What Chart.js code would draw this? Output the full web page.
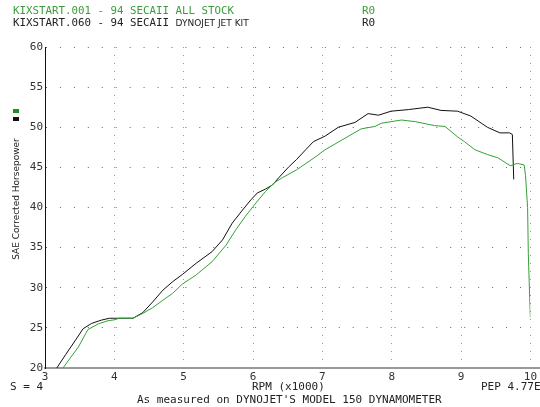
<!DOCTYPE html>
<html>
<head>
<meta charset="utf-8">
<script src="https://cdn.jsdelivr.net/npm/chart.js@4.4.1/dist/chart.umd.min.js"></script>
<style>
  html, body { margin: 0; padding: 0; background: #fff; }
  #wrap { position: relative; width: 540px; height: 407px; overflow: hidden;
          font-family: "DejaVu Sans Mono", monospace; font-size: 11px; color: #222; }
  #wrap canvas { position: absolute; left: 0; top: 0; }
  .txt { position: absolute; white-space: nowrap; line-height: 13px; }
  .green { color: #3c9c3c; }
  .narrow { font-family: "DejaVu Sans", sans-serif; font-size: 9px; }
  .key { position: absolute; left: 13px; width: 6px; height: 4px; }
  #ytitle { position: absolute; left: 16px; top: 199px; white-space: nowrap;
            font-family: "DejaVu Sans", sans-serif; font-size: 9px; line-height: 10px;
            transform: translate(-50%, -50%) rotate(-90deg); color: #222; }
</style>
</head>
<body>
<div id="wrap">
  <canvas id="dynoChart" width="540" height="407"></canvas>
  <div class="txt green" style="left:13px; top:4px; font-size:10.8px;">KIXSTART.001 - 94 SECAII ALL STOCK</div>
  <div class="txt green" style="left:362px; top:4px;">R0</div>
  <div class="txt" style="left:13px; top:16px; font-size:10.8px;">KIXSTART.060 - 94 SECAII <span class="narrow">DYNOJET JET KIT</span></div>
  <div class="txt" style="left:362px; top:16px;">R0</div>
  <div class="key" style="top:109px; background:#1f8f1f;"></div>
  <div class="key" style="top:117px; background:#111;"></div>
  <div id="ytitle">SAE Corrected Horsepower</div>
  <div class="txt" style="left:10px; top:380px;">S = 4</div>
  <div class="txt" style="left:252px; top:380px;">RPM (x1000)</div>
  <div class="txt" style="left:481px; top:380px;">PEP 4.77E</div>
  <div class="txt" style="left:137px; top:393px;">As measured on DYNOJET'S MODEL 150 DYNAMOMETER</div>
</div>
<script>
// 94 SECAII - all stock (run .001)
const rpmStock = [3.26, 3.36, 3.48, 3.62, 3.77, 3.91, 4.00, 4.07, 4.27, 4.41,
                  4.55, 4.70, 4.84, 4.98, 5.18, 5.41, 5.61, 5.75, 5.89, 6.04,
                  6.18, 6.30, 6.42, 6.63, 6.90, 7.04, 7.28, 7.56, 7.76, 7.85,
                  8.14, 8.34, 8.62, 8.77, 8.95, 9.05, 9.20, 9.38, 9.53, 9.71,
                  9.81, 9.91, 9.93, 9.96, 9.97, 9.99, 10.0];
const hpStock = [20.0, 21.2, 22.6, 24.8, 25.5, 25.9, 26.0, 26.2, 26.2, 26.8,
                 27.5, 28.45, 29.3, 30.45, 31.6, 33.25, 35.3, 37.2, 38.9, 40.55,
                 42.0, 43.05, 43.7, 44.7, 46.3, 47.2, 48.4, 49.8, 50.1, 50.5,
                 50.9, 50.7, 50.2, 50.1, 48.8, 48.2, 47.2, 46.6, 46.2, 45.2,
                 45.5, 45.3, 44.0, 40.0, 34.3, 28.8, 26.3];

// 94 SECAII - dynojet jet kit (run .060)
const rpmKit = [3.17, 3.30, 3.45, 3.55, 3.67, 3.81, 3.93, 4.00, 4.27, 4.41,
                4.55, 4.70, 4.84, 4.98, 5.18, 5.41, 5.56, 5.70, 5.85, 5.97,
                6.06, 6.18, 6.28, 6.37, 6.52, 6.63, 6.76, 6.87, 7.04, 7.23,
                7.47, 7.66, 7.81, 7.99, 8.24, 8.52, 8.71, 8.95, 9.14, 9.38,
                9.56, 9.70, 9.74, 9.76];
const hpKit = [20.0, 21.7, 23.6, 24.9, 25.55, 25.96, 26.2, 26.2, 26.2, 26.9,
               28.2, 29.7, 30.75, 31.65, 33.05, 34.5, 35.96, 38.05, 39.7, 40.96,
               41.8, 42.3, 42.8, 43.7, 45.1, 46.0, 47.2, 48.2, 48.9, 50.0,
               50.6, 51.7, 51.5, 52.0, 52.2, 52.5, 52.1, 52.0, 51.4, 50.0,
               49.3, 49.3, 49.1, 43.5];

// axis ranges
const rpmMin = 3, rpmMax = 10, rpmStep = 1;
const hpMin = 20, hpMax = 60, hpStep = 5;

function toPoints(xs, ys) {
    return xs.map((x, i) => ({ x: x, y: ys[i] }));
}

// gray bottom axis runs past the plot to the edge of the picture
const extendAxis = {
    id: 'extendAxis',
    afterDraw(chart) {
        const ctx = chart.ctx;
        const area = chart.chartArea;
        ctx.save();
        ctx.strokeStyle = '#999';
        ctx.lineWidth = 2;
        ctx.beginPath();
        ctx.moveTo(area.right, area.bottom);
        ctx.lineTo(chart.width, area.bottom);
        ctx.stroke();
        ctx.restore();
    }
};

const tickFont = { family: 'DejaVu Sans Mono', size: 11 };

new Chart(document.getElementById('dynoChart'), {
    type: 'line',
    data: {
        datasets: [{
            label: 'KIXSTART.001',
            data: toPoints(rpmStock, hpStock),
            borderColor: '#36a036',
            borderWidth: 1,
            pointRadius: 0,
            tension: 0,
            fill: false
        }, {
            label: 'KIXSTART.060',
            data: toPoints(rpmKit, hpKit),
            borderColor: '#111',
            borderWidth: 1,
            pointRadius: 0,
            tension: 0,
            fill: false
        }]
    },
    options: {
        responsive: false,
        animation: false,
        layout: { padding: { top: 47, right: 7, left: 0, bottom: 0 } },
        plugins: {
            legend: { display: false },
            tooltip: { enabled: false }
        },
        scales: {
            x: {
                type: 'linear',
                min: rpmMin,
                max: rpmMax,
                afterFit: (scale) => { scale.height = 39; },
                ticks: { stepSize: rpmStep, padding: 3, color: '#333', font: tickFont },
                grid: { color: '#999', drawTicks: false },
                border: { color: '#999', width: 2, dash: [1, 7] }
            },
            y: {
                min: hpMin,
                max: hpMax,
                afterFit: (scale) => { scale.width = 45; },
                ticks: { stepSize: hpStep, padding: 2, color: '#333', font: tickFont },
                grid: { color: '#666', drawTicks: false },
                border: { color: '#111', width: 1, dash: [1, 12.94] }
            }
        }
    },
    plugins: [extendAxis]
});
</script>
</body>
</html>
